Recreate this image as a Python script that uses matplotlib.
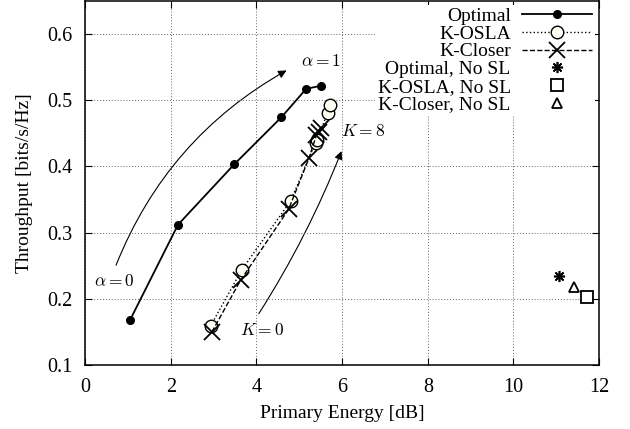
import numpy as np
import matplotlib
matplotlib.use("Agg")
import matplotlib.pyplot as plt
from matplotlib.patches import FancyArrowPatch

plt.rcParams['font.family'] = ['Liberation Serif', 'DejaVu Serif']
plt.rcParams['mathtext.fontset'] = 'cm'

# data
opt_x = [1.05, 2.17, 3.48, 4.58, 5.16, 5.51]
opt_y = [0.168, 0.312, 0.403, 0.474, 0.517, 0.522]

osla_x = [2.93, 3.66, 4.80, 5.38, 5.42, 5.66, 5.71]
osla_y = [0.159, 0.244, 0.348, 0.436, 0.440, 0.481, 0.493]

closer_x = [2.96, 3.63, 4.75, 5.23, 5.40, 5.45, 5.50]
closer_y = [0.150, 0.228, 0.335, 0.413, 0.447, 0.452, 0.458]

nosl_opt = (11.07, 0.235)
nosl_osla = (11.71, 0.203)
nosl_closer = (11.42, 0.218)

fig = plt.figure(figsize=(6.3, 4.29), dpi=100)
ax = fig.add_axes([0.135, 0.149, 0.816, 0.849])

ax.plot(opt_x, opt_y, '-', color='black', lw=1.3, marker='o', ms=5.5,
        mfc='black', label='Optimal', zorder=4)
ax.plot(osla_x, osla_y, ':', color='black', lw=1.0, marker='o', ms=9,
        mfc='#fffff4', mew=1.0, label='K-OSLA', zorder=3)
ax.plot(closer_x, closer_y, '--', color='black', lw=1.0, marker='x', ms=11,
        mew=1.3, label='K-Closer', zorder=3)
ax.plot([nosl_opt[0]], [nosl_opt[1]], ls='none', color='black', marker=(8, 2, 0),
        ms=8, mew=1.2, label='Optimal, No SL')
ax.plot([nosl_osla[0]], [nosl_osla[1]], ls='none', color='black', marker='s',
        ms=8, mfc='white', mew=1.3, label='K-OSLA, No SL')
ax.plot([nosl_closer[0]], [nosl_closer[1]], ls='none', color='black', marker='^',
        ms=7, mfc='white', mew=1.3, label='K-Closer, No SL')

# annotations
a1 = FancyArrowPatch((0.70, 0.247), (4.76, 0.547), connectionstyle='arc3,rad=-0.18',
                     arrowstyle='-|>', mutation_scale=12, lw=0.8, color='black')
ax.add_patch(a1)
a2 = FancyArrowPatch((4.02, 0.174), (6.01, 0.427), connectionstyle='arc3,rad=0.05',
                     arrowstyle='-|>', mutation_scale=12, lw=0.8, color='black')
ax.add_patch(a2)
ax.text(5.04, 0.557, r'$\alpha = 1$', fontsize=12.5, va='center', ha='left')
ax.text(0.2, 0.225, r'$\alpha = 0$', fontsize=12.5, va='center', ha='left')
ax.text(3.62, 0.152, r'$K = 0$', fontsize=12.5, va='center', ha='left')
ax.text(5.98, 0.452, r'$K = 8$', fontsize=12.5, va='center', ha='left')

ax.set_xlim(0, 12)
ax.set_ylim(0.1, 0.65)
ax.set_xticks([0, 2, 4, 6, 8, 10, 12])
ax.set_yticks([0.1, 0.2, 0.3, 0.4, 0.5, 0.6])
ax.tick_params(direction='in', top=True, right=True, labelsize=14.5, length=5, pad=9)
ax.grid(True, ls=(0, (1, 2)), color='#666666', lw=0.7)
for s in ax.spines.values():
    s.set_linewidth(1.1)

ax.set_xlabel('Primary Energy [dB]', fontsize=14, labelpad=6)
ax.set_ylabel('Throughput [bits/s/Hz]', fontsize=14, labelpad=10)

leg = ax.legend(loc='upper right', markerfirst=False, frameon=True, fontsize=14,
                handlelength=3.6, labelspacing=0.0, borderpad=0.15, handletextpad=0.6,
                borderaxespad=0.2)
leg.get_frame().set_edgecolor('none')
leg.get_frame().set_facecolor('white')
leg.get_frame().set_alpha(1.0)
for t in leg.get_texts():
    t.set_ha('right')
leg._legend_box.align = 'right'

fig.savefig('out.png', dpi=100)
